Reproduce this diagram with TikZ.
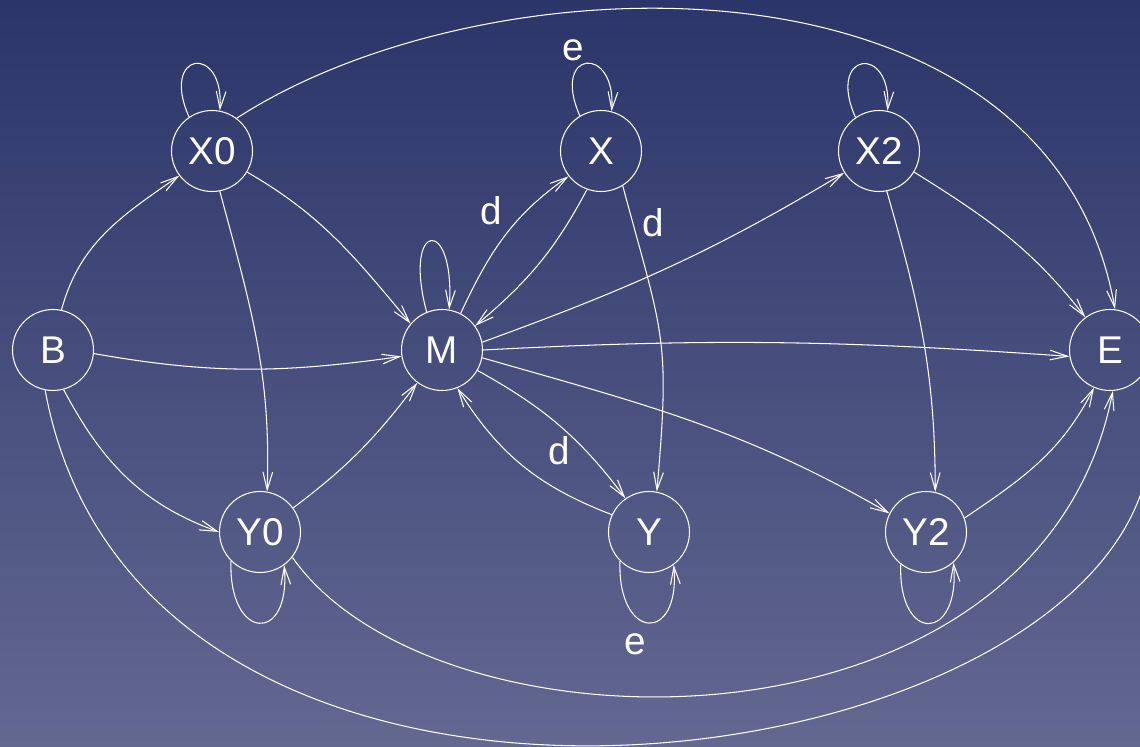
\documentclass[tikz,border=0pt]{standalone}
\usepackage{fontspec}
\setmainfont{Liberation Sans}
\usetikzlibrary{arrows.meta,positioning}

\definecolor{bgtop}{RGB}{43,53,105}
\definecolor{bgbottom}{RGB}{99,104,145}

\tikzset{
  st/.style={circle, draw=white, line width=0.6pt, minimum size=1.62cm, inner sep=0pt,
    text=white, font=\fontsize{22}{26}\selectfont},
  conn/.style={draw=white, line width=0.6pt, -{Straight Barb[length=10pt,width=5.5pt]}},
  lbl/.style={text=white, inner sep=1pt, font=\fontsize{22}{26}\selectfont}
}

\begin{document}
\begin{tikzpicture}
        % background
        \shade[top color=bgtop, bottom color=bgbottom] (0,0) rectangle (22.8,14.92);
        \useasboundingbox (0,0) rectangle (22.8,14.92);
        % states
        \node[st] (B)  at (1.06,7.92)  {B};
        \node[st] (X0) at (4.24,11.9)  {X0};
        \node[st] (M)  at (8.84,7.92)  {M};
        \node[st] (X)  at (12.02,11.9) {X};
        \node[st] (X2) at (17.58,11.9) {X2};
        \node[st] (E)  at (22.2,7.92)  {E};
        \node[st] (Y0) at (5.2,4.28)   {Y0};
        \node[st] (Y)  at (12.98,4.28) {Y};
        \node[st] (Y2) at (18.52,4.28) {Y2};
        % loops
        \draw[conn] (X0.124) .. controls +(114:1.45) and +(86:1.35) .. (X0.79);
        \draw[conn] (X.121) .. controls +(114:1.45) and +(86:1.35) .. node[lbl, pos=0.5, above left] {e} (X.75);
        \draw[conn] (X2.125) .. controls +(114:1.45) and +(86:1.35) .. (X2.78);
        \draw[conn] (M.112) .. controls +(105:1.9) and +(86:1.9) .. (M.80);
        \draw[conn] (Y0.225) .. controls +(268:1.6) and +(275:1.6) .. (Y0.306);
        \draw[conn] (Y.225) .. controls +(268:1.6) and +(275:1.6) .. node[lbl, pos=0.5, below left, yshift=-5pt] {e} (Y.307);
        \draw[conn] (Y2.232) .. controls +(268:1.6) and +(275:1.6) .. (Y2.312);
        % from B
        \draw[conn] (B.78) to[out=75,in=215] (X0.217);
        \draw[conn] (B.-5) to[out=-10,in=188] (M.189);
        \draw[conn] (B.-75) to[out=-62,in=160] (Y0.180);
        \draw[conn] (B.259) .. controls +(-79.6:11.6) and +(-72.8:8.04) .. (E.-40);
        % from X0
        \draw[conn] (X0.53) .. controls +(33:6) and +(100:7.5) .. (E.83);
        \draw[conn] (X0.-31) to[out=-30,in=130] (M.140);
        \draw[conn] (X0.-79) to[out=-75,in=88] (Y0.80);
        % middle
        \draw[conn] (M.63) to[out=65,in=215] node[lbl, pos=0.5, above left, yshift=5pt] {d} (X.218);
        \draw[conn] (X.250) to[out=242,in=40] (M.36);
        \draw[conn] (X.-58) to[out=-75,in=85,looseness=1.3] node[lbl, pos=0.09, right=4pt] {d} (Y.79);
        \draw[conn] (M.-30) to[out=-29,in=127] node[lbl, pos=0.5, below=5pt] {d} (Y.125);
        \draw[conn] (Y.155) to[out=159,in=-58] (M.-68);
        \draw[conn] (M.11) to[out=20,in=211] (X2.212);
        \draw[conn] (M.0) to[out=3,in=176] (E.189);
        \draw[conn] (M.-11) to[out=-16,in=150] (Y2.153);
        \draw[conn] (Y0.36) to[out=37,in=233] (M.233);
        % right side
        \draw[conn] (X2.-31) to[out=-32,in=128] (E.127);
        \draw[conn] (X2.-79) to[out=-74,in=90] (Y2.77);
        \draw[conn] (Y2.20) to[out=34,in=243] (E.247);
        \draw[conn] (Y0.-38) .. controls +(-55:5) and +(-101:7.7) .. (E.-86);
\end{tikzpicture}
\end{document}
